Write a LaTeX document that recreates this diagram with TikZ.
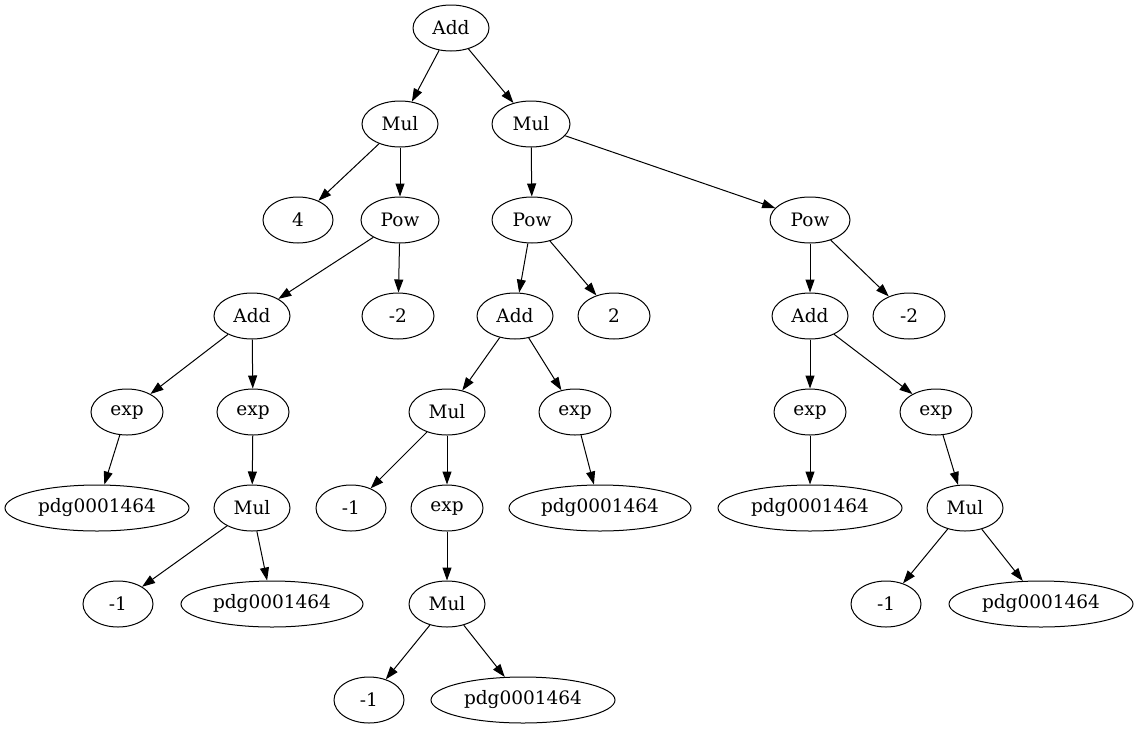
\documentclass[tikz,border=0pt]{standalone}
\usepackage{fontspec}
\setmainfont{DejaVu Serif}
\usetikzlibrary{shapes.geometric,arrows.meta}
\begin{document}
\begin{tikzpicture}[x=1pt,y=-1pt,
  nd/.style={ellipse,draw,line width=1pt,inner sep=0pt,minimum height=46pt,
    font=\fontsize{18.5}{22}\selectfont},
  ed/.style={line width=1pt,-{Triangle[length=13pt,width=9pt]}}]
\useasboundingbox (0,0) rectangle (1139,731);
\node[nd,minimum width=76pt] (a0) at (451,28) {Add};
\node[nd,minimum width=76pt] (m1) at (400,124) {Mul};
\node[nd,minimum width=78pt] (m2) at (531,124) {Mul};
\node[nd,minimum width=70pt] (n4) at (298,220) {4};
\node[nd,minimum width=78pt] (p1) at (400,220) {Pow};
\node[nd,minimum width=80pt] (p2) at (532,220) {Pow};
\node[nd,minimum width=80pt] (p3) at (810,220) {Pow};
\node[nd,minimum width=76pt] (a1) at (252,316) {Add};
\node[nd,minimum width=72pt] (c1) at (398,316) {-2};
\node[nd,minimum width=76pt] (a2) at (515,316) {Add};
\node[nd,minimum width=72pt] (c2) at (614,316) {2};
\node[nd,minimum width=76pt] (a3) at (810,316) {Add};
\node[nd,minimum width=72pt] (c3) at (909,316) {-2};
\node[nd,minimum width=72pt] (e1) at (127,412) {exp};
\node[nd,minimum width=72pt] (e2) at (253,412) {exp};
\node[nd,minimum width=76pt] (m3) at (447,412) {Mul};
\node[nd,minimum width=72pt] (e3) at (575,412) {exp};
\node[nd,minimum width=72pt] (e4) at (810,412) {exp};
\node[nd,minimum width=72pt] (e5) at (936,412) {exp};
\node[nd,minimum width=184pt] (d1) at (97,508) {pdg0001464};
\node[nd,minimum width=76pt] (m4) at (252,508) {Mul};
\node[nd,minimum width=70pt] (c4) at (351,508) {-1};
\node[nd,minimum width=72pt] (e6) at (447,508) {exp};
\node[nd,minimum width=182pt] (d2) at (600,508) {pdg0001464};
\node[nd,minimum width=184pt] (d3) at (810,508) {pdg0001464};
\node[nd,minimum width=76pt] (m5) at (965,508) {Mul};
\node[nd,minimum width=70pt] (c5) at (118,604) {-1};
\node[nd,minimum width=182pt] (d4) at (272,604) {pdg0001464};
\node[nd,minimum width=76pt] (m6) at (447,604) {Mul};
\node[nd,minimum width=70pt] (c6) at (886,604) {-1};
\node[nd,minimum width=184pt] (d5) at (1041,604) {pdg0001464};
\node[nd,minimum width=70pt] (c7) at (369,700) {-1};
\node[nd,minimum width=184pt] (d6) at (523,700) {pdg0001464};
\foreach \s/\t in {a0/m1,a0/m2,m1/n4,m1/p1,m2/p2,m2/p3,p1/a1,p1/c1,p2/a2,p2/c2,
  p3/a3,p3/c3,a1/e1,a1/e2,a2/m3,a2/e3,a3/e4,a3/e5,e1/d1,e2/m4,m3/c4,m3/e6,e3/d2,
  e4/d3,e5/m5,m4/c5,m4/d4,e6/m6,m5/c6,m5/d5,m6/c7,m6/d6}
  \draw[ed] (\s) -- (\t);
\end{tikzpicture}
\end{document}
